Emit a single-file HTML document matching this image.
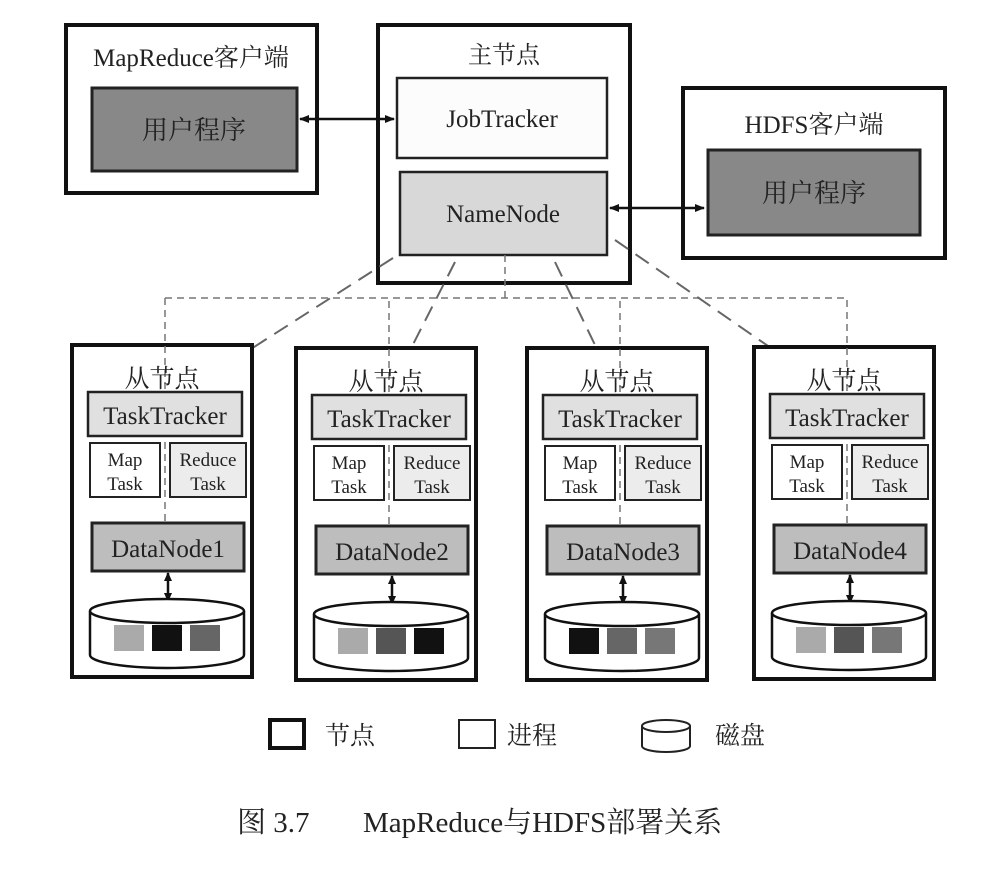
<!DOCTYPE html>
<html><head><meta charset="utf-8"><style>
body{margin:0;background:#fff;}
svg{display:block;font-family:"Liberation Serif","Noto Serif CJK SC",serif;}
</style></head><body>
<svg width="986" height="870" viewBox="0 0 986 870" xmlns="http://www.w3.org/2000/svg">
<defs>
<marker id="a" markerUnits="userSpaceOnUse" markerWidth="10" markerHeight="8" refX="9" refY="4" orient="auto-start-reverse"><path d="M0,0 L10,4 L0,8 z" fill="#111"/></marker>
<marker id="b" markerUnits="userSpaceOnUse" markerWidth="10" markerHeight="8" refX="8" refY="4" orient="auto-start-reverse"><path d="M0,0 L9,4 L0,8 z" fill="#111"/></marker>
<g id="slave">
 <rect x="0" y="0" width="180" height="332" fill="#fff" stroke="#111" stroke-width="4"/>
 <line x1="93" y1="-47" x2="93" y2="178" stroke="#777" stroke-width="1.5" stroke-dasharray="7,5"/>
 <text x="90" y="42" font-size="25" text-anchor="middle" fill="#222">从节点</text>
 <rect x="16" y="47" width="154" height="44" fill="#e0e0e0" stroke="#222" stroke-width="2.5"/>
 <text x="93" y="79" font-size="25" text-anchor="middle" fill="#222">TaskTracker</text>
 <rect x="18" y="98" width="70" height="54" fill="#fff" stroke="#222" stroke-width="2"/>
 <text x="53" y="121" font-size="19" text-anchor="middle" fill="#222">Map</text>
 <text x="53" y="145" font-size="19" text-anchor="middle" fill="#222">Task</text>
 <rect x="98" y="98" width="76" height="54" fill="#ececec" stroke="#222" stroke-width="2"/>
 <text x="136" y="121" font-size="19" text-anchor="middle" fill="#222">Reduce</text>
 <text x="136" y="145" font-size="19" text-anchor="middle" fill="#222">Task</text>
 <rect x="20" y="178" width="152" height="48" fill="#bdbdbd" stroke="#222" stroke-width="3"/>
 <line x1="96" y1="228" x2="96" y2="256" stroke="#111" stroke-width="2.5" marker-start="url(#b)" marker-end="url(#b)"/>
 <path d="M18,266 L18,310 A77,13 0 0 0 172,310 L172,266" fill="#fff" stroke="#111" stroke-width="2.5"/>
 <ellipse cx="95" cy="266" rx="77" ry="12" fill="#fff" stroke="#111" stroke-width="2.5"/>
</g>
</defs>

<rect x="66" y="25" width="251" height="168" fill="#fff" stroke="#111" stroke-width="4"/>
<text x="191" y="66" font-size="25" text-anchor="middle" fill="#222">MapReduce客户端</text>
<rect x="92" y="88" width="205" height="83" fill="#888" stroke="#222" stroke-width="3"/>
<text x="194" y="139" font-size="26" text-anchor="middle" fill="#222">用户程序</text>

<rect x="378" y="25" width="252" height="258" fill="#fff" stroke="#111" stroke-width="4"/>
<text x="504" y="63" font-size="24" text-anchor="middle" fill="#222">主节点</text>
<rect x="397" y="78" width="210" height="80" fill="#fcfcfc" stroke="#222" stroke-width="2.5"/>
<text x="502" y="127" font-size="25" text-anchor="middle" fill="#222">JobTracker</text>
<rect x="400" y="172" width="207" height="83" fill="#d8d8d8" stroke="#222" stroke-width="2.5"/>
<text x="503" y="222" font-size="25" text-anchor="middle" fill="#222">NameNode</text>

<rect x="683" y="88" width="262" height="170" fill="#fff" stroke="#111" stroke-width="4"/>
<text x="814" y="133" font-size="25" text-anchor="middle" fill="#222">HDFS客户端</text>
<rect x="708" y="150" width="212" height="85" fill="#888" stroke="#222" stroke-width="3"/>
<text x="814" y="202" font-size="26" text-anchor="middle" fill="#222">用户程序</text>

<line x1="300" y1="119" x2="394" y2="119" stroke="#111" stroke-width="2.5" marker-start="url(#a)" marker-end="url(#a)"/>
<line x1="610" y1="208" x2="704" y2="208" stroke="#111" stroke-width="2.5" marker-start="url(#a)" marker-end="url(#a)"/>

<g stroke="#777" stroke-width="1.5" fill="none" stroke-dasharray="7,5">
<line x1="505" y1="255" x2="505" y2="298"/>
<line x1="165" y1="298" x2="848" y2="298"/>
</g>
<g stroke="#666" stroke-width="2" fill="none" stroke-dasharray="16,9">
<line x1="393" y1="258" x2="215" y2="372"/>
<line x1="455" y1="262" x2="400" y2="370"/>
<line x1="555" y1="262" x2="608" y2="372"/>
<line x1="615" y1="240" x2="820" y2="382"/>
</g>

<g transform="translate(72,345)"><use href="#slave"/>
 <text x="96" y="212" font-size="25" text-anchor="middle" fill="#222">DataNode1</text>
 <rect x="42" y="280" width="30" height="26" fill="#aaa"/><rect x="80" y="280" width="30" height="26" fill="#111"/><rect x="118" y="280" width="30" height="26" fill="#666"/></g>
<g transform="translate(296,348)"><use href="#slave"/>
 <text x="96" y="212" font-size="25" text-anchor="middle" fill="#222">DataNode2</text>
 <rect x="42" y="280" width="30" height="26" fill="#aaa"/><rect x="80" y="280" width="30" height="26" fill="#555"/><rect x="118" y="280" width="30" height="26" fill="#111"/></g>
<g transform="translate(527,348)"><use href="#slave"/>
 <text x="96" y="212" font-size="25" text-anchor="middle" fill="#222">DataNode3</text>
 <rect x="42" y="280" width="30" height="26" fill="#111"/><rect x="80" y="280" width="30" height="26" fill="#666"/><rect x="118" y="280" width="30" height="26" fill="#777"/></g>
<g transform="translate(754,347)"><use href="#slave"/>
 <text x="96" y="212" font-size="25" text-anchor="middle" fill="#222">DataNode4</text>
 <rect x="42" y="280" width="30" height="26" fill="#aaa"/><rect x="80" y="280" width="30" height="26" fill="#555"/><rect x="118" y="280" width="30" height="26" fill="#777"/></g>

<rect x="270" y="720" width="34" height="28" fill="#fff" stroke="#111" stroke-width="4"/>
<text x="325" y="744" font-size="25" fill="#222">节点</text>
<rect x="459" y="720" width="36" height="28" fill="#fff" stroke="#222" stroke-width="2"/>
<text x="507" y="744" font-size="25" fill="#222">进程</text>
<path d="M642,726 L642,746 A24,6 0 0 0 690,746 L690,726" fill="#fff" stroke="#222" stroke-width="2"/>
<ellipse cx="666" cy="726" rx="24" ry="6" fill="#fff" stroke="#222" stroke-width="2"/>
<text x="715" y="744" font-size="25" fill="#222">磁盘</text>

<text x="237" y="832" font-size="29" fill="#222">图 3.7</text>
<text x="363" y="832" font-size="29" fill="#222">MapReduce与HDFS部署关系</text>
</svg>
</body></html>
